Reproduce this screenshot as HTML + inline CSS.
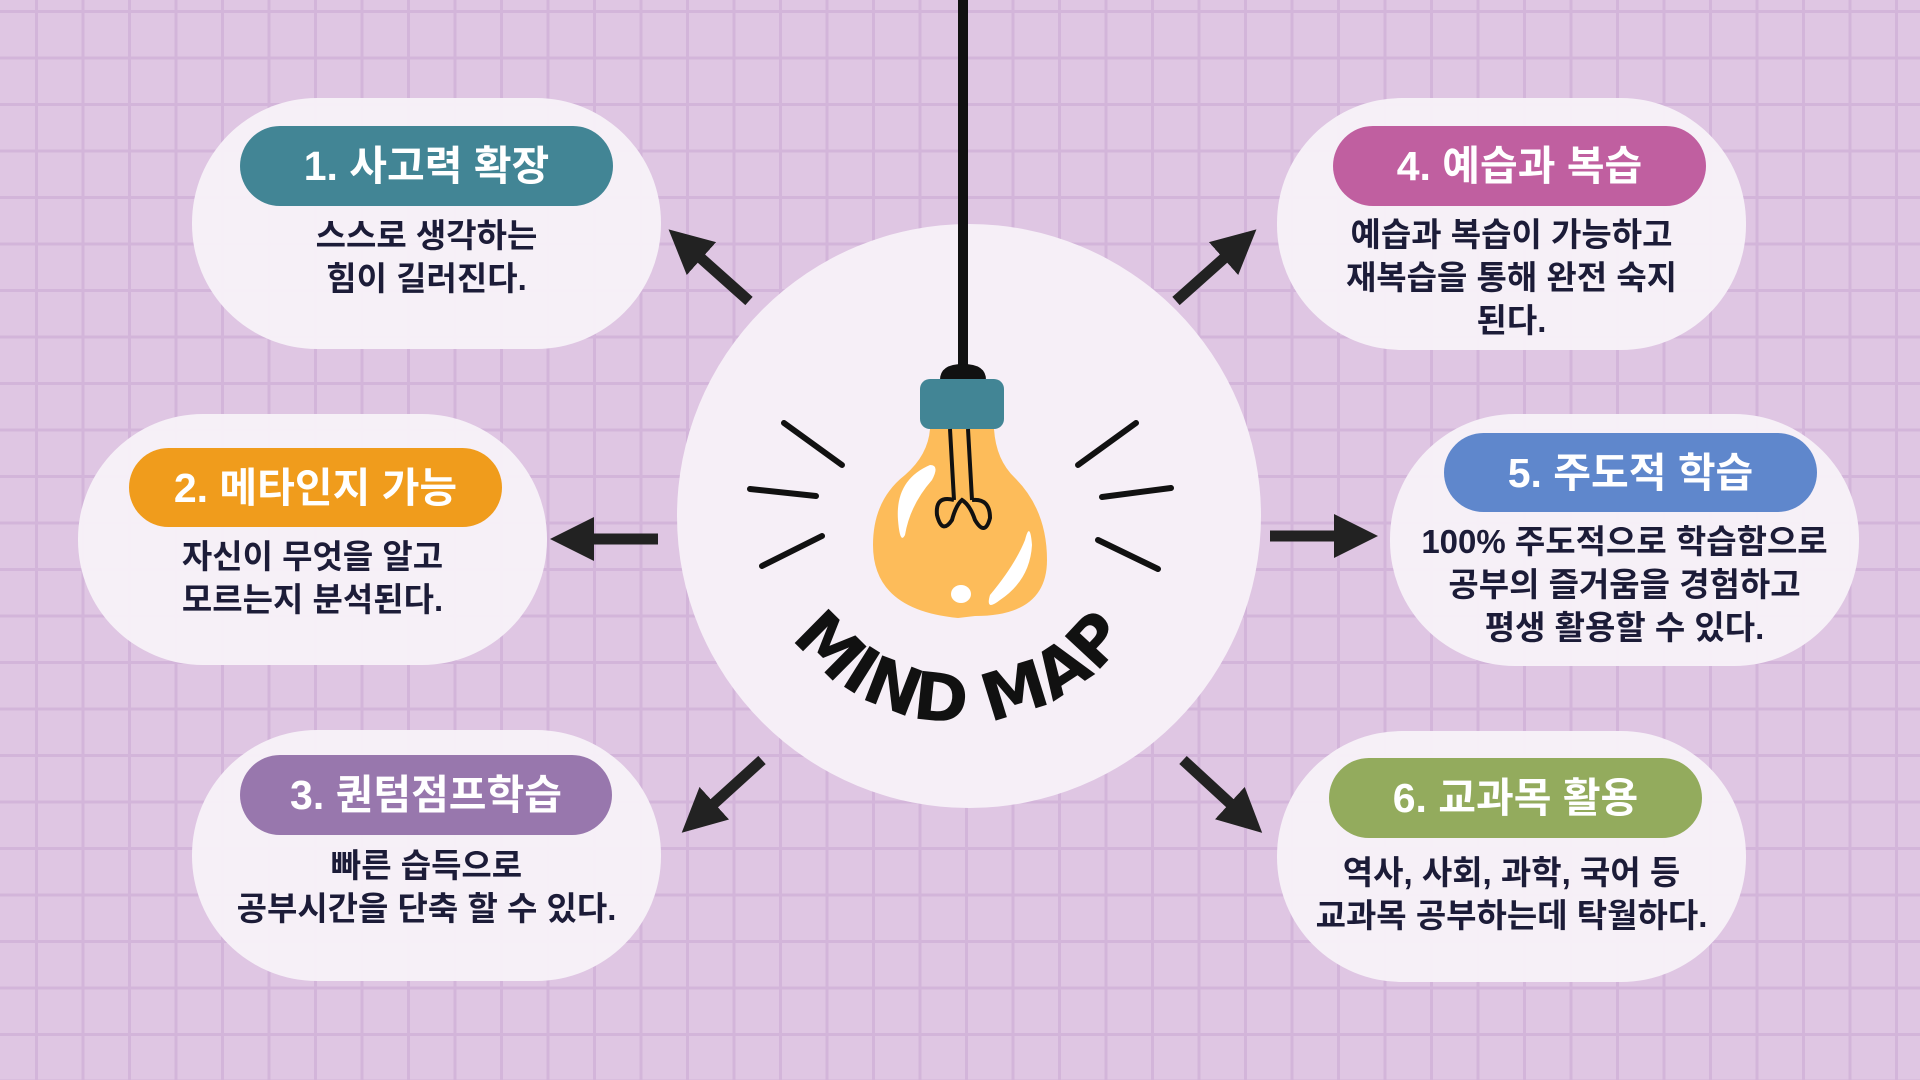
<!DOCTYPE html>
<html><head><meta charset="utf-8"><style>
html,body{margin:0;padding:0}
body{width:1920px;height:1080px;position:relative;overflow:hidden;background-color:#dfc6e3;
background-image:linear-gradient(to right,#d3b5da 3px,transparent 3px),linear-gradient(to bottom,#d3b5da 3px,transparent 3px);
background-size:46.5px 46.5px;background-position:35px 10px;font-family:"Liberation Sans","Noto Sans CJK KR",sans-serif}
.card{position:absolute;background:rgba(247,241,248,0.96);border-radius:125px}
.pill{position:absolute;border-radius:40px;color:#fff;font-weight:bold;font-size:41px;display:flex;align-items:center;justify-content:center;box-sizing:border-box;padding-bottom:8px}
.txt{position:absolute;color:#1c1c38;font-weight:bold;font-size:33px;line-height:43px;text-align:center;white-space:nowrap}
svg{position:absolute;left:0;top:0}
</style></head><body>
<div class="card" style="left:192px;top:98px;width:469px;height:251px"></div>
<div class="card" style="left:78px;top:414px;width:469px;height:251px"></div>
<div class="card" style="left:192px;top:730px;width:469px;height:251px"></div>
<div class="card" style="left:1277px;top:98px;width:469px;height:252px"></div>
<div class="card" style="left:1390px;top:414px;width:469px;height:252px"></div>
<div class="card" style="left:1277px;top:731px;width:469px;height:251px"></div>

<div class="pill" style="left:240px;top:126px;width:373px;height:80px;background:#428595">1. 사고력 확장</div>
<div class="pill" style="left:129px;top:448px;width:373px;height:79px;background:#f09c1c">2. 메타인지 가능</div>
<div class="pill" style="left:240px;top:755px;width:372px;height:80px;background:#9877ad">3. 퀀텀점프학습</div>
<div class="pill" style="left:1333px;top:126px;width:373px;height:80px;background:#c05fa0">4. 예습과 복습</div>
<div class="pill" style="left:1444px;top:433px;width:373px;height:79px;background:#5f87cc">5. 주도적 학습</div>
<div class="pill" style="left:1329px;top:758px;width:373px;height:80px;background:#93ab5d">6. 교과목 활용</div>

<div class="txt" style="left:192px;width:469px;top:214px">스스로 생각하는<br>힘이 길러진다.</div>
<div class="txt" style="left:78px;width:469px;top:535px">자신이 무엇을 알고<br>모르는지 분석된다.</div>
<div class="txt" style="left:192px;width:469px;top:844px">빠른 습득으로<br>공부시간을 단축 할 수 있다.</div>
<div class="txt" style="left:1277px;width:469px;top:213px">예습과 복습이 가능하고<br>재복습을 통해 완전 숙지<br>된다.</div>
<div class="txt" style="left:1390px;width:469px;top:520px">100% 주도적으로 학습함으로<br>공부의 즐거움을 경험하고<br>평생 활용할 수 있다.</div>
<div class="txt" style="left:1277px;width:469px;top:851px">역사, 사회, 과학, 국어 등<br>교과목 공부하는데 탁월하다.</div>

<svg width="1920" height="1080" viewBox="0 0 1920 1080">
<defs><marker id="ah" markerWidth="4" markerHeight="4" refX="2" refY="2" orient="auto" markerUnits="strokeWidth"><path d="M0,0 L4,2 L0,4 Z" fill="#222"/></marker>
<path id="arc" d="M752,514 A208,208 0 0 0 1168,514"/></defs>
<circle cx="969" cy="516" r="292" fill="rgba(247,241,248,0.97)"/>
<g stroke="#222" stroke-width="11" fill="none" marker-end="url(#ah)">
<line x1="749" y1="301" x2="685" y2="244"/>
<line x1="658" y1="539" x2="572" y2="539"/>
<line x1="762" y1="760" x2="698" y2="818"/>
<line x1="1176" y1="301" x2="1240" y2="244"/>
<line x1="1270" y1="536" x2="1356" y2="536"/>
<line x1="1183" y1="760" x2="1246" y2="818"/>
</g>
<line x1="963" y1="0" x2="963" y2="372" stroke="#111" stroke-width="10"/>
<path d="M940,380 Q940,364 963,364 Q986,364 986,380 Z" fill="#111"/>
<rect x="920" y="379" width="84" height="50" rx="10" fill="#428595"/>
<path d="M930,429 L994,429 Q996,460 1015,478 Q1047,510 1047,560 Q1047,616 975,616 L958,618 Q873,610 873,545 Q873,500 905,475 Q928,455 930,429 Z" fill="#fdbc5a"/>
<path d="M950,429 L954,500 M968,429 L972,500" stroke="#111" stroke-width="4" fill="none"/>
<path d="M954,500 Q935,495 937,515 Q942,535 952,520 Q956,505 962,500 Q970,505 975,520 Q985,537 990,518 Q990,498 972,500" stroke="#111" stroke-width="4" fill="none"/>
<path d="M898,520 Q895,480 930,465 Q940,465 932,480 Q910,505 905,535 Q900,545 898,520 Z" fill="#fff"/>
<path d="M1025,540 Q1030,520 1032,545 Q1030,580 1000,600 Q985,612 990,595 Q1015,565 1025,540 Z" fill="#fff"/>
<ellipse cx="961" cy="594" rx="10" ry="9" fill="#fff"/>
<g stroke="#111" stroke-width="6" stroke-linecap="round">
<line x1="784" y1="423" x2="842" y2="465"/>
<line x1="750" y1="489" x2="816" y2="496"/>
<line x1="762" y1="566" x2="822" y2="536"/>
<line x1="1136" y1="423" x2="1078" y2="465"/>
<line x1="1171" y1="488" x2="1102" y2="497"/>
<line x1="1098" y1="540" x2="1158" y2="569"/>
</g>
<text font-family="DejaVu Sans, sans-serif" font-weight="bold" font-size="66" fill="#111" text-anchor="middle"><textPath href="#arc" startOffset="50%" textLength="390" lengthAdjust="spacing">MIND MAP</textPath></text>
</svg>
</body></html>
